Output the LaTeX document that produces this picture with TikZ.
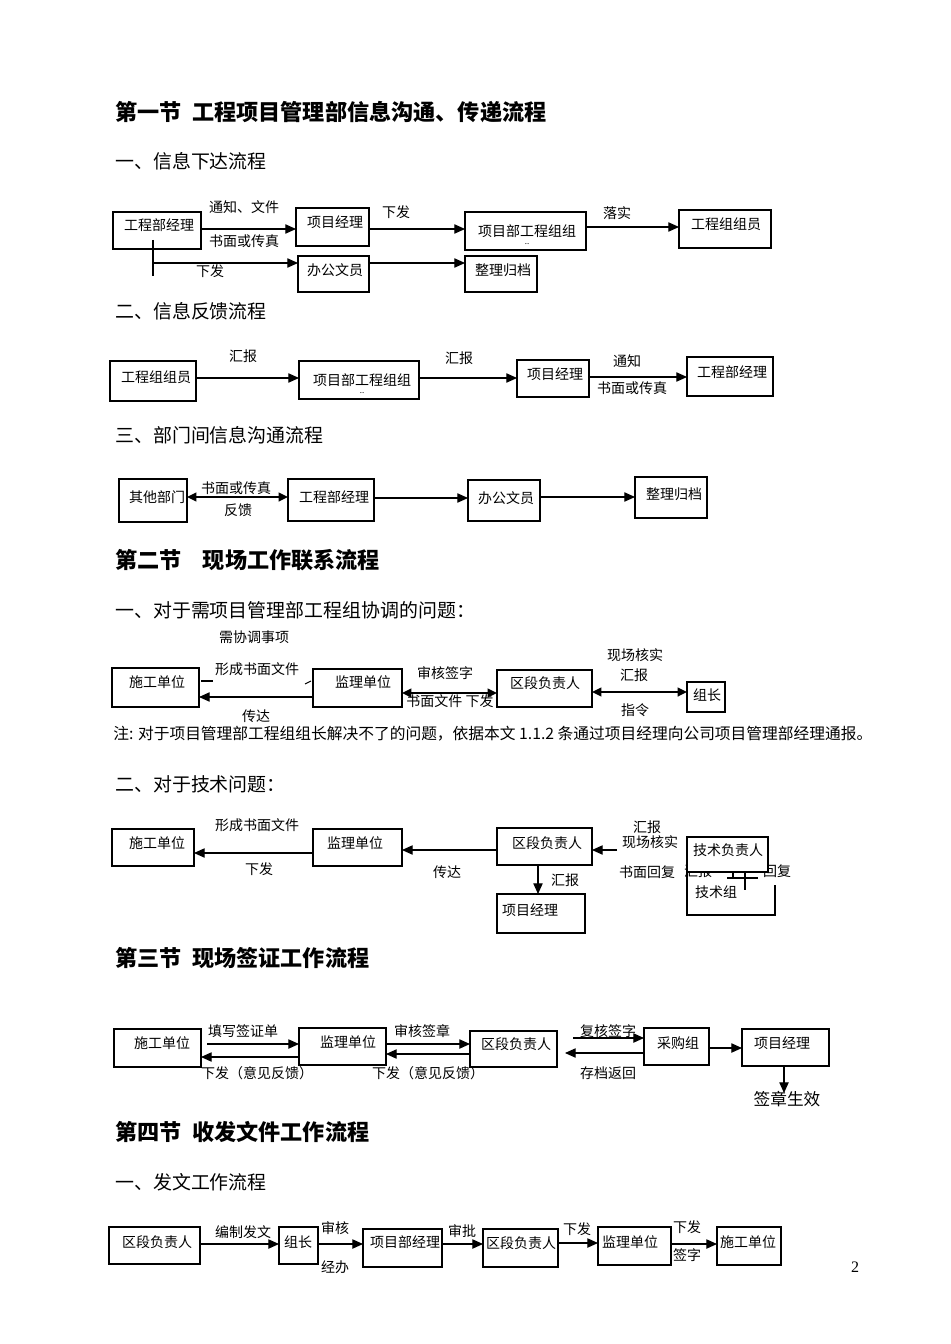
\documentclass[tikz,border=0pt]{standalone}
\usepackage{fontspec}
\setmainfont{Noto Sans CJK SC}
\newfontfamily\serifnum{Liberation Serif}
\usetikzlibrary{arrows.meta}
\tikzset{
  box/.style={draw, line width=0.8pt, inner sep=0pt, outer sep=0pt, fill=white},
  lbl/.style={font=\fontsize{10.5}{12}\selectfont, inner sep=0pt},
  hd/.style={anchor=west, inner sep=0pt, font=\fontsize{16.6}{19}\selectfont\bfseries},
  sub/.style={anchor=west, inner sep=0pt, font=\fontsize{14.2}{16}\selectfont},
  ln/.style={line width=0.8pt},
  arr/.style={line width=0.8pt, -{Triangle[length=8pt,width=7pt]}},
  darr/.style={line width=1.6pt, {Triangle[length=7pt,width=6.5pt]}-{Triangle[length=7pt,width=6.5pt]}}
}
\newcommand\bx[5]{\node[box, minimum width={(#4-#2)*0.75pt}, minimum height={(#5-#3)*0.75pt}] (#1) at ({(#2+#4)/2},{(#3+#5)/2}) {};}
\newcommand\tx[4]{\node[lbl] (#1) at (#2,#3) {#4};}
\begin{document}
\begin{tikzpicture}[x=0.75pt,y=-0.75pt]
\useasboundingbox[fill=white] (0,0) rectangle (950,1344);

% ---------- headings ----------
\node[hd] (h1) at (115,112) {第一节\hspace{8pt}工程项目管理部信息沟通、传递流程};
\node[sub] (s11) at (115,161) {一、信息下达流程};
\node[sub] (s12) at (115,311) {二、信息反馈流程};
\node[sub] (s13) at (115,435) {三、部门间信息沟通流程};
\node[hd] (h2) at (115,560) {第二节\hspace{16pt}现场工作联系流程};
\node[sub] (s21) at (115,610) {一、对于需项目管理部工程组协调的问题：};
\node[sub] (s22) at (115,784) {二、对于技术问题：};
\node[hd] (h3) at (115,958) {第三节\hspace{8pt}现场签证工作流程};
\node[hd] (h4) at (115,1132) {第四节\hspace{8pt}收发文件工作流程};
\node[sub] (s41) at (115,1182) {一、发文工作流程};

% ---------- section 1.1 ----------
\bx{a1}{113}{212}{201}{249} \tx{a1t}{159}{225}{工程部经理}
\bx{a2}{296}{208}{369}{246} \tx{a2t}{335}{222}{项目经理}
\bx{a3}{465}{212}{586}{250} \tx{a3t}{527}{231}{项目部工程组组}
\node[lbl, font=\fontsize{6}{6}\selectfont] (a3d) at (527,244) {..};
\bx{a4}{679}{210}{771}{248} \tx{a4t}{726}{224}{工程组组员}
\bx{a5}{298}{256}{369}{292} \tx{a5t}{335}{270}{办公文员}
\bx{a6}{465}{256}{537}{292} \tx{a6t}{503}{270}{整理归档}
\draw[arr] (a1.east |- 0,229) -- (a2.west |- 0,229);
\draw[arr] (a2.east |- 0,229) -- (a3.west |- 0,229);
\draw[arr] (a3.east |- 0,227) -- (a4.west |- 0,227);
\draw[arr] (a5.east |- 0,263) -- (a6.west |- 0,263);
\coordinate (a1b) at (153,240);
\coordinate (a1c) at (153,276);
\coordinate (a1m) at (153,263);
\draw[ln] (a1b) -- (a1c);
\draw[arr] (a1m) -- (a5.west |- a1m);
\tx{l11}{244}{207}{通知、文件}
\tx{l12}{244}{241}{书面或传真}
\tx{l13}{396}{212}{下发}
\tx{l14}{617}{213}{落实}
\tx{l15}{210}{271}{下发}

% ---------- section 1.2 ----------
\bx{b1}{110}{361}{196}{401} \tx{b1t}{156}{377}{工程组组员}
\bx{b2}{299}{361}{419}{399} \tx{b2t}{362}{380}{项目部工程组组}
\node[lbl, font=\fontsize{6}{6}\selectfont] (b2d) at (362,393) {..};
\bx{b3}{517}{360}{589}{397} \tx{b3t}{555}{374}{项目经理}
\bx{b4}{687}{357}{773}{396} \tx{b4t}{732}{372}{工程部经理}
\draw[arr] (b1.east |- 0,378) -- (b2.west |- 0,378);
\draw[arr] (b2.east |- 0,378) -- (b3.west |- 0,378);
\draw[arr] (b3.east |- 0,377) -- (b4.west |- 0,377);
\tx{l21}{243}{356}{汇报}
\tx{l22}{459}{358}{汇报}
\tx{l23}{627}{361}{通知}
\tx{l24}{632}{388}{书面或传真}

% ---------- section 1.3 ----------
\bx{c1}{119}{479}{187}{522} \tx{c1t}{157}{497}{其他部门}
\bx{c2}{288}{479}{374}{521} \tx{c2t}{334}{497}{工程部经理}
\bx{c3}{468}{480}{540}{521} \tx{c3t}{506}{498}{办公文员}
\bx{c4}{635}{477}{707}{518} \tx{c4t}{674}{494}{整理归档}
\draw[darr] (c1.east |- 0,497) -- (c2.west |- 0,497);
\draw[arr] (c2.east |- 0,498) -- (c3.west |- 0,498);
\draw[arr] (c3.east |- 0,497) -- (c4.west |- 0,497);
\tx{l31}{236}{488}{书面或传真}
\tx{l32}{238}{510}{反馈}

% ---------- section 2.1 ----------
\tx{l41}{254}{637}{需协调事项}
\tx{l42}{257}{669}{形成书面文件}
\bx{d1}{112}{668}{199}{707} \tx{d1t}{157}{682}{施工单位}
\bx{d2}{313}{669}{402}{707} \tx{d2t}{363}{682}{监理单位}
\bx{d3}{497}{670}{592}{707} \tx{d3t}{545}{683}{区段负责人}
\bx{d4}{687}{682}{725}{712} \tx{d4t}{707}{695}{组长}
\coordinate (d1s) at (201,681);
\coordinate (d1e) at (213,681);
\draw[ln] (d1s) -- (d1e);
\coordinate (d2s) at (305,684);
\coordinate (d2e) at (311,681);
\draw[ln] (d2s) -- (d2e);
\draw[arr] (d2.west |- 0,697) -- (d1.east |- 0,697);
\draw[darr] (d2.east |- 0,693) -- (d3.west |- 0,693);
\draw[darr] (d3.east |- 0,692) -- (d4.west |- 0,692);
\tx{l43}{256}{716}{传达}
\tx{l44}{445}{673}{审核签字}
\tx{l45}{450}{701}{书面文件 下发}
\tx{l46}{635}{655}{现场核实}
\tx{l47}{634}{675}{汇报}
\tx{l48}{635}{710}{指令}
\node[anchor=west, inner sep=0pt, font=\fontsize{11.8}{13}\selectfont] (note) at (113,734) {注: 对于项目管理部工程组组长解决不了的问题，依据本文 1.1.2 条通过项目经理向公司项目管理部经理通报。};

% ---------- section 2.2 ----------
\tx{l51}{257}{825}{形成书面文件}
\bx{e1}{112}{829}{194}{866} \tx{e1t}{157}{843}{施工单位}
\bx{e2}{313}{829}{402}{866} \tx{e2t}{355}{843}{监理单位}
\bx{e3}{497}{828}{592}{865} \tx{e3t}{547}{843}{区段负责人}
\bx{e4}{497}{894}{585}{933} \tx{e4t}{530}{910}{项目经理}
\draw[arr] (e2.west |- 0,853) -- (e1.east |- 0,853);
\draw[arr] (e3.west |- 0,850) -- (e2.east |- 0,850);
\coordinate (e5s) at (617,850);
\draw[arr] (e5s) -- (e3.east |- e5s);
\draw[arr] (e3.south -| 538,0) -- (e4.north -| 538,0);
\tx{l52}{259}{869}{下发}
\tx{l53}{447}{872}{传达}
\tx{l54}{647}{827}{汇报}
\tx{l55}{650}{842}{现场核实}
\tx{l56}{647}{872}{书面回复}
\tx{l57}{565}{880}{汇报}
% technical group (behind)
\coordinate (g1) at (687,872);
\coordinate (g2) at (687,915);
\coordinate (g3) at (775,915);
\coordinate (g4) at (775,885);
\draw[ln] (g1) -- (g2) -- (g3) -- (g4);
\tx{e6t}{716}{892}{技术组}
\coordinate (t1) at (727,878);
\coordinate (t2) at (758,878);
\coordinate (t3) at (745,872);
\coordinate (t4) at (745,890);
\coordinate (t5) at (733,872);
\coordinate (t6) at (733,878);
\draw[ln] (t1) -- (t2);
\draw[ln] (t3) -- (t4);
\draw[ln] (t5) -- (t6);
\tx{l58}{698}{871}{汇报}
\tx{l59}{777}{871}{回复}
\bx{e5}{687}{837}{768}{872} \tx{e5t}{728}{850}{技术负责人}

% ---------- section 3 ----------
\bx{f1}{114}{1029}{201}{1067} \tx{f1t}{162}{1043}{施工单位}
\bx{f2}{299}{1028}{386}{1065} \tx{f2t}{348}{1042}{监理单位}
\bx{f3}{470}{1031}{557}{1067} \tx{f3t}{516}{1044}{区段负责人}
\bx{f4}{644}{1028}{709}{1065} \tx{f4t}{678}{1043}{采购组}
\bx{f5}{742}{1029}{829}{1066} \tx{f5t}{782}{1043}{项目经理}
\coordinate (f1s) at (207,1044);
\draw[arr] (f1s) -- (f2.west |- f1s);
\draw[arr] (f2.west |- 0,1057) -- (f1.east |- 0,1057);
\draw[arr] (f2.east |- 0,1044) -- (f3.west |- 0,1044);
\draw[arr] (f3.west |- 0,1054) -- (f2.east |- 0,1054);
\coordinate (f3s) at (573,1038);
\draw[arr] (f3s) -- (f4.west |- f3s);
\coordinate (f3e) at (565,1053);
\draw[arr] (f4.west |- f3e) -- (f3e);
\draw[arr] (f4.east |- 0,1048) -- (f5.west |- 0,1048);
\coordinate (f6) at (784,1093);
\draw[arr] (f5.south -| f6) -- (f6);
\tx{l61}{243}{1031}{填写签证单}
\tx{l62}{257}{1073}{下发（意见反馈）}
\tx{l63}{422}{1031}{审核签章}
\tx{l64}{428}{1073}{下发（意见反馈）}
\tx{l65}{608}{1031}{复核签字}
\tx{l66}{608}{1073}{存档返回}
\node[inner sep=0pt, font=\fontsize{12.5}{14}\selectfont] (l67) at (787,1099) {签章生效};

% ---------- section 4 ----------
\bx{k1}{109}{1227}{200}{1264} \tx{k1t}{157}{1242}{区段负责人}
\bx{k2}{279}{1227}{318}{1264} \tx{k2t}{298}{1242}{组长}
\bx{k3}{363}{1229}{442}{1267} \tx{k3t}{405}{1242}{项目部经理}
\bx{k4}{483}{1229}{558}{1267} \tx{k4t}{521}{1243}{区段负责人}
\bx{k5}{598}{1227}{671}{1265} \tx{k5t}{630}{1242}{监理单位}
\bx{k6}{717}{1227}{781}{1265} \tx{k6t}{748}{1242}{施工单位}
\draw[arr] (k1.east |- 0,1244) -- (k2.west |- 0,1244);
\draw[arr] (k2.east |- 0,1244) -- (k3.west |- 0,1244);
\draw[arr] (k3.east |- 0,1244) -- (k4.west |- 0,1244);
\draw[arr] (k4.east |- 0,1243) -- (k5.west |- 0,1243);
\draw[arr] (k5.east |- 0,1244) -- (k6.west |- 0,1244);
\tx{l71}{243}{1232}{编制发文}
\tx{l72}{335}{1228}{审核}
\tx{l73}{335}{1267}{经办}
\tx{l74}{462}{1231}{审批}
\tx{l75}{577}{1229}{下发}
\tx{l76}{687}{1227}{下发}
\tx{l77}{687}{1255}{签字}
\node[inner sep=0pt, font=\serifnum\fontsize{12}{14}\selectfont] (pg) at (855,1267) {2};
\end{tikzpicture}
\end{document}
